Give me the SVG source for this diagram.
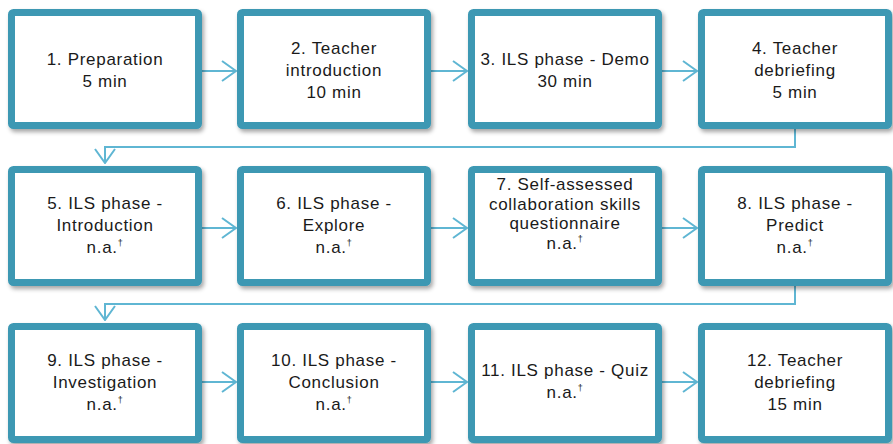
<svg xmlns="http://www.w3.org/2000/svg" width="893" height="444" viewBox="0 0 893 444">
<defs>
<filter id="sh" x="-10%" y="-10%" width="125%" height="130%">
<feDropShadow dx="2" dy="3" stdDeviation="2" flood-color="#000" flood-opacity="0.35"/>
</filter>
<marker id="ah" viewBox="0 0 16 22" refX="15" refY="11" markerWidth="16" markerHeight="22" markerUnits="userSpaceOnUse" orient="auto">
<path d="M1,1 L15,11 L1,21" fill="none" stroke="#5FB6D3" stroke-width="2"/>
</marker>
</defs>
<style>
.box{fill:#fff;stroke:#3C98B3;stroke-width:7;filter:url(#sh)}
.t{font-family:"Liberation Sans",Arial,sans-serif;font-size:17px;fill:#1a1a1a;text-anchor:middle;letter-spacing:0.7px}
.sup{font-size:9px}
.c{fill:none;stroke:#5FB6D3;stroke-width:2}
</style>
<rect width="893" height="444" fill="#fff"/>
<g id="connectors">
<line class="c" x1="201" y1="71" x2="236" y2="71" marker-end="url(#ah)"/>
<line class="c" x1="431" y1="71" x2="467" y2="71" marker-end="url(#ah)"/>
<line class="c" x1="662" y1="71" x2="697" y2="71" marker-end="url(#ah)"/>
<polyline class="c" points="795,129 795,147 105,147 105,163" marker-end="url(#ah)"/>
<line class="c" x1="201" y1="228" x2="236" y2="228" marker-end="url(#ah)"/>
<line class="c" x1="431" y1="228" x2="467" y2="228" marker-end="url(#ah)"/>
<line class="c" x1="662" y1="228" x2="697" y2="228" marker-end="url(#ah)"/>
<polyline class="c" points="795,286 795,304 105,304 105,320" marker-end="url(#ah)"/>
<line class="c" x1="201" y1="382" x2="236" y2="382" marker-end="url(#ah)"/>
<line class="c" x1="431" y1="382" x2="467" y2="382" marker-end="url(#ah)"/>
<line class="c" x1="662" y1="382" x2="697" y2="382" marker-end="url(#ah)"/>
</g>
<g id="n1"><rect class="box" x="11.5" y="12.5" width="187" height="113" rx="2"/>
<text class="t" x="105" y="65">1. Preparation</text><text class="t" x="105" y="87">5 min</text></g>
<g id="n2"><rect class="box" x="240.5" y="12.5" width="187" height="113" rx="2"/>
<text class="t" x="334" y="54">2. Teacher</text><text class="t" x="334" y="76">introduction</text><text class="t" x="334" y="98">10 min</text></g>
<g id="n3"><rect class="box" x="471.5" y="12.5" width="187" height="113" rx="2"/>
<text class="t" x="565" y="65">3. ILS phase - Demo</text><text class="t" x="565" y="87">30 min</text></g>
<g id="n4"><rect class="box" x="701.5" y="12.5" width="187" height="113" rx="2"/>
<text class="t" x="795" y="54">4. Teacher</text><text class="t" x="795" y="76">debriefing</text><text class="t" x="795" y="98">5 min</text></g>

<g id="n5"><rect class="box" x="11.5" y="169.5" width="187" height="113" rx="2"/>
<text class="t" x="105" y="209">5. ILS phase -</text><text class="t" x="105" y="231">Introduction</text><text class="t" x="105" y="253">n.a.<tspan class="sup" dy="-7">†</tspan></text></g>
<g id="n6"><rect class="box" x="240.5" y="169.5" width="187" height="113" rx="2"/>
<text class="t" x="334" y="209">6. ILS phase -</text><text class="t" x="334" y="231">Explore</text><text class="t" x="334" y="253">n.a.<tspan class="sup" dy="-7">†</tspan></text></g>
<g id="n7"><rect class="box" x="471.5" y="169.5" width="187" height="113" rx="2"/>
<text class="t" x="565" y="190">7. Self-assessed</text><text class="t" x="565" y="209.5">collaboration skills</text><text class="t" x="565" y="229">questionnaire</text><text class="t" x="565" y="248.5">n.a.<tspan class="sup" dy="-7">†</tspan></text></g>
<g id="n8"><rect class="box" x="701.5" y="169.5" width="187" height="113" rx="2"/>
<text class="t" x="795" y="209">8. ILS phase -</text><text class="t" x="795" y="231">Predict</text><text class="t" x="795" y="253">n.a.<tspan class="sup" dy="-7">†</tspan></text></g>

<g id="n9"><rect class="box" x="11.5" y="326.5" width="187" height="113" rx="2"/>
<text class="t" x="105" y="366">9. ILS phase -</text><text class="t" x="105" y="388">Investigation</text><text class="t" x="105" y="410">n.a.<tspan class="sup" dy="-7">†</tspan></text></g>
<g id="n10"><rect class="box" x="240.5" y="326.5" width="187" height="113" rx="2"/>
<text class="t" x="334" y="366">10. ILS phase -</text><text class="t" x="334" y="388">Conclusion</text><text class="t" x="334" y="410">n.a.<tspan class="sup" dy="-7">†</tspan></text></g>
<g id="n11"><rect class="box" x="471.5" y="326.5" width="187" height="113" rx="2"/>
<text class="t" x="565" y="376">11. ILS phase - Quiz</text><text class="t" x="565" y="398">n.a.<tspan class="sup" dy="-7">†</tspan></text></g>
<g id="n12"><rect class="box" x="701.5" y="326.5" width="187" height="113" rx="2"/>
<text class="t" x="795" y="366">12. Teacher</text><text class="t" x="795" y="388">debriefing</text><text class="t" x="795" y="410">15 min</text></g>
</svg>
